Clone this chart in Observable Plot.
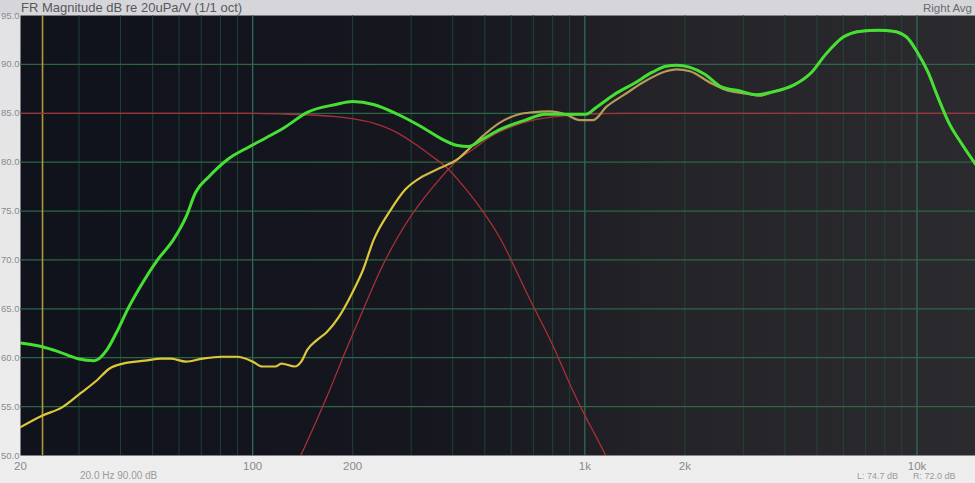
<!DOCTYPE html>
<html><head><meta charset="utf-8">
<script src="https://cdn.jsdelivr.net/npm/d3@7"></script>
<script src="https://cdn.jsdelivr.net/npm/@observablehq/plot@0.6"></script>
<style>
html,body{margin:0;padding:0;background:#e8e8ea;overflow:hidden}
#chart{position:relative;width:975px;height:483px;font-family:"Liberation Sans",Arial,sans-serif}
#chart svg{display:block}
.lbl{position:absolute;white-space:nowrap;line-height:1}
</style></head><body>
<div id="chart"></div>
<script>
// ---- data ----
const freqTicks = [20, 50, 100, 200, 500, 1000, 2000, 5000, 10000];
const freqTickLabels = ["20", "50", "100", "200", "500", "1k", "2k", "5k", "10k"];
const dbTicks = [50, 55, 60, 65, 70, 75, 80, 85, 90, 95];
const gridMinorFreq = [30, 40, 50, 60, 70, 80, 90, 200, 300, 400, 500, 600, 700, 800, 900,
  2000, 3000, 4000, 5000, 6000, 7000, 8000, 9000];
const gridMajorFreq = [100, 1000, 10000];
const cursorFreq = [23.3];

// combined response (green)
const greenFreq = [20, 23.4, 26.1, 29.8, 33.4, 36.4, 38.8, 42.4, 46.5, 51.7, 57.8, 63, 67.3, 73.8, 84.2,
  98, 109.8, 125.4, 146, 178, 200, 231, 273, 323, 374, 414, 446, 490, 552, 662,
  761, 899, 1007, 1082, 1224, 1414, 1598, 1757, 1889, 2073, 2297, 2577, 2913, 3291, 3693,
  4263, 4819, 5300, 5998, 6792, 7637, 8460, 9300, 10000, 10760, 11570, 12440, 13680, 16060];
const greenDb = [61.5, 61.1, 60.6, 59.9, 59.7, 60.8, 62.5, 65.2, 67.6, 70.0, 72.1, 74.4, 76.9, 78.5, 80.3,
  81.6, 82.5, 83.6, 85.1, 85.9, 86.2, 85.9, 84.9, 83.6, 82.3, 81.7, 81.6, 82.3, 83.3, 84.3,
  84.9, 84.9, 84.9, 85.6, 86.9, 88.1, 89.2, 89.8, 89.9, 89.7, 89.0, 87.7, 87.3, 86.9, 87.2,
  87.9, 89.2, 91.0, 92.8, 93.4, 93.5, 93.4, 92.8, 91.3, 89.3, 86.6, 84.1, 81.8, 78.4];

// second trace (yellow, turning tan)
const traceFreq = [20, 23.3, 26.6, 30.4, 34, 37.1, 40.7, 47.4, 53.1, 56.7, 63, 70.5, 80.5, 90, 100,
  107, 117, 122, 134, 140, 146, 156, 167, 182, 194.5, 204, 215, 231, 260, 288,
  323, 366, 414, 446, 490, 552, 634, 695, 783, 875, 966, 1059, 1164, 1315, 1486,
  1757, 1889, 2073, 2393, 2649, 3062, 3365, 3693, 4263, 4819, 5300, 5998, 6792, 7637,
  8460, 9300, 10000, 10760, 11570, 12440, 13680, 16060];
const traceDb = [52.9, 54.1, 54.9, 56.4, 57.7, 58.9, 59.4, 59.7, 59.9, 59.9, 59.6, 59.9, 60.1, 60.1, 59.6,
  59.1, 59.1, 59.4, 59.1, 59.6, 60.8, 61.8, 62.6, 64.2, 65.9, 67.3, 69.0, 72.0, 75.1, 77.2,
  78.5, 79.4, 80.3, 81.3, 82.6, 84.0, 84.9, 85.1, 85.2, 84.9, 84.3, 84.3, 85.7, 86.9, 88.1,
  89.3, 89.5, 89.3, 88.1, 87.4, 87.0, 86.8, 87.2, 87.9, 89.2, 91.0, 92.8, 93.4, 93.5,
  93.4, 92.8, 91.3, 89.3, 86.6, 84.1, 81.8, 78.4];

// crossover targets (red)
const lowPassFreq = [20, 100, 128, 156, 178, 194.5, 231, 273, 310, 348, 385, 432, 490, 552, 680, 800, 918, 1007, 1082, 1156, 1250];
const lowPassDb = [85.0, 85.0, 84.9, 84.8, 84.65, 84.5, 84.0, 83.0, 81.8, 80.55, 79.4, 77.5, 75.1, 72.4, 66.1, 61.3, 56.7, 53.9, 51.9, 50.0, 47.7];
const highPassFreq = [133, 144, 167, 191, 220, 242, 273, 316, 358, 394, 414, 460, 520, 600, 700, 850, 1000, 1300, 16060];
const highPassDb = [48.5, 51.0, 55.95, 60.8, 65.7, 68.9, 72.3, 75.6, 77.9, 79.5, 80.25, 81.3, 82.6, 83.6, 84.3, 84.7, 84.9, 85.0, 85.0];

// ---- build tables ----
const zip = (fs, vs) => fs.map((f, i) => ({f, db: vs[i]}));
const green = zip(greenFreq, greenDb);
const trace = zip(traceFreq, traceDb);
const lp = zip(lowPassFreq, lowPassDb);
const hp = zip(highPassFreq, highPassDb);
const tickLabel = new Map(freqTicks.map((t, i) => [t, freqTickLabels[i]]));
const curve = "monotone-x";

const chart = Plot.plot({
  width: 975, height: 483,
  marginTop: 15, marginLeft: 20, marginRight: 0, marginBottom: 28,
  style: {
    background: "linear-gradient(#d6d6da 0px, #d6d6da 15px, #e2e2e4 15px, #eeeeee 483px)",
    color: "#8a8a8d",
    fontFamily: "'Liberation Sans', Arial, sans-serif",
    fontSize: "11.5px",
    overflow: "hidden"
  },
  x: {type: "log", domain: [20, 15000], ticks: freqTicks, tickFormat: d => tickLabel.get(d) ?? "", tickSize: 0, tickPadding: 6, label: null},
  y: {domain: [50, 95], ticks: dbTicks, tickFormat: d3.format(".1f"), tickSize: 0, tickPadding: 1, label: null},
  marks: [
    Plot.frame({fill: "#15161f", stroke: "none"}),
    Plot.ruleX(gridMinorFreq, {x: d => d, stroke: "#1f4d38", strokeWidth: 1, strokeOpacity: 0.8}),
    Plot.ruleX(gridMajorFreq, {x: d => d, stroke: "#2f7358", strokeWidth: 1.2}),
    Plot.ruleY(dbTicks.filter(d => d > 50 && d < 95), {y: d => d, stroke: "#2c6645", strokeWidth: 1.2}),
    Plot.ruleX(cursorFreq, {x: d => d, stroke: "#a99b3a", strokeWidth: 1.6}),
    Plot.line(lp, {x: "f", y: "db", stroke: "#a8303a", strokeWidth: 1.3, curve, clip: true}),
    Plot.line(hp, {x: "f", y: "db", stroke: "#a8303a", strokeWidth: 1.3, curve, clip: true}),
    Plot.line(trace, {filter: d => d.f <= 323, x: "f", y: "db", stroke: "#dcc83a", strokeWidth: 2.2, curve, clip: true}),
    Plot.line(trace, {filter: d => d.f >= 323 && d.f <= 490, x: "f", y: "db", stroke: "#cdb848", strokeWidth: 2.2, curve, clip: true}),
    Plot.line(trace, {filter: d => d.f >= 490, x: "f", y: "db", stroke: "#b49c5a", strokeWidth: 2.2, curve, clip: true}),
    Plot.line(green, {x: "f", y: "db", stroke: "#45e033", strokeWidth: 3, curve, clip: true})
  ]
});

// plot-area glare gradient
const defs = d3.select(chart).insert("defs", ":first-child");
const g = defs.append("linearGradient").attr("id", "plotbg").attr("x1", 0).attr("x2", 1).attr("y1", 0).attr("y2", 0);
[["0%", "#10121c"], ["45%", "#16171f"], ["70%", "#252529"], ["100%", "#2b2b2f"]].forEach(([o, c]) =>
  g.append("stop").attr("offset", o).attr("stop-color", c));
d3.select(chart).selectAll('rect[aria-label="frame"], [aria-label="frame"] rect').attr("fill", "url(#plotbg)");
// y tick labels: smaller so they fit left of the plot
d3.select(chart).selectAll('[aria-label="y-axis tick label"] text, g[aria-label="y-axis"] text').attr("font-size", "9.5px");

const root = document.getElementById("chart");
root.appendChild(chart);
function label(text, css) {
  const d = document.createElement("div");
  d.className = "lbl"; d.textContent = text;
  Object.assign(d.style, css);
  root.appendChild(d);
}
label("FR Magnitude dB re 20uPa/V (1/1 oct)", {left: "21px", top: "1px", fontSize: "13px", color: "#58585c"});
label("Right  Avg", {right: "3px", top: "3px", fontSize: "11.5px", color: "#6a6a6e"});
label("20.0 Hz    90.00 dB", {left: "80px", top: "471px", fontSize: "10px", color: "#9a9a9c"});
label("L: 74.7 dB", {left: "857px", top: "472px", fontSize: "9px", color: "#9a9a9c"});
label("R: 72.0 dB", {left: "913px", top: "472px", fontSize: "9px", color: "#9a9a9c"});
</script>
</body></html>
